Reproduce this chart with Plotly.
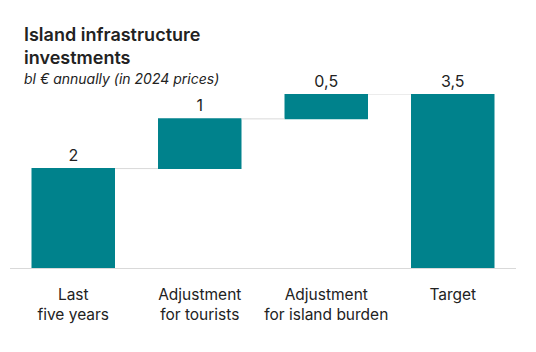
import plotly.graph_objects as go

categories = ["Last<br>five years", "Adjustment<br>for tourists", "Adjustment<br>for island burden", "Target"]
values = [2, 1, 0.5, 3.5]
measures = ["absolute", "relative", "relative", "total"]
labels = ["2", "1", "0,5", "3,5"]

teal = "#00828C"
font = "Inter, Lato, sans-serif"

fig = go.Figure(go.Waterfall(
    x=categories, y=values, measure=measures,
    text=labels, textposition="outside", cliponaxis=False,
    textfont=dict(size=16, color="#222222", family=font),
    increasing=dict(marker=dict(color=teal)),
    decreasing=dict(marker=dict(color=teal)),
    totals=dict(marker=dict(color=teal)),
    connector=dict(line=dict(color="#d9d9d9", width=1)),
    width=0.66,
))

fig.update_layout(
    width=536, height=352,
    margin=dict(l=10, r=20, t=94, b=84),
    plot_bgcolor="white", paper_bgcolor="white",
    showlegend=False,
    separators=", ",
    font=dict(family=font, color="#222222"),
    xaxis=dict(showgrid=False, showline=True, linecolor="#d9d9d9", linewidth=1,
               ticks="", ticklabelstandoff=12,
               tickfont=dict(size=15.5, color="#222222")),
    yaxis=dict(range=[0, 3.5], visible=False),
    annotations=[
        dict(text="Island infrastructure<br>investments", xref="paper", yref="paper",
             x=0, xshift=12, y=1, yshift=72, xanchor="left", yanchor="top",
             showarrow=False, align="left",
             font=dict(size=18, family=font, color="#222222", weight=600)),
        dict(text="<i>bl € annually (in 2024 prices)</i>", xref="paper", yref="paper",
             x=0, xshift=12, y=1, yshift=26, xanchor="left", yanchor="top",
             showarrow=False, align="left",
             font=dict(size=14, family=font, color="#222222")),
    ],
)
fig.update_xaxes(tickangle=0)

fig.write_html("out.html")
